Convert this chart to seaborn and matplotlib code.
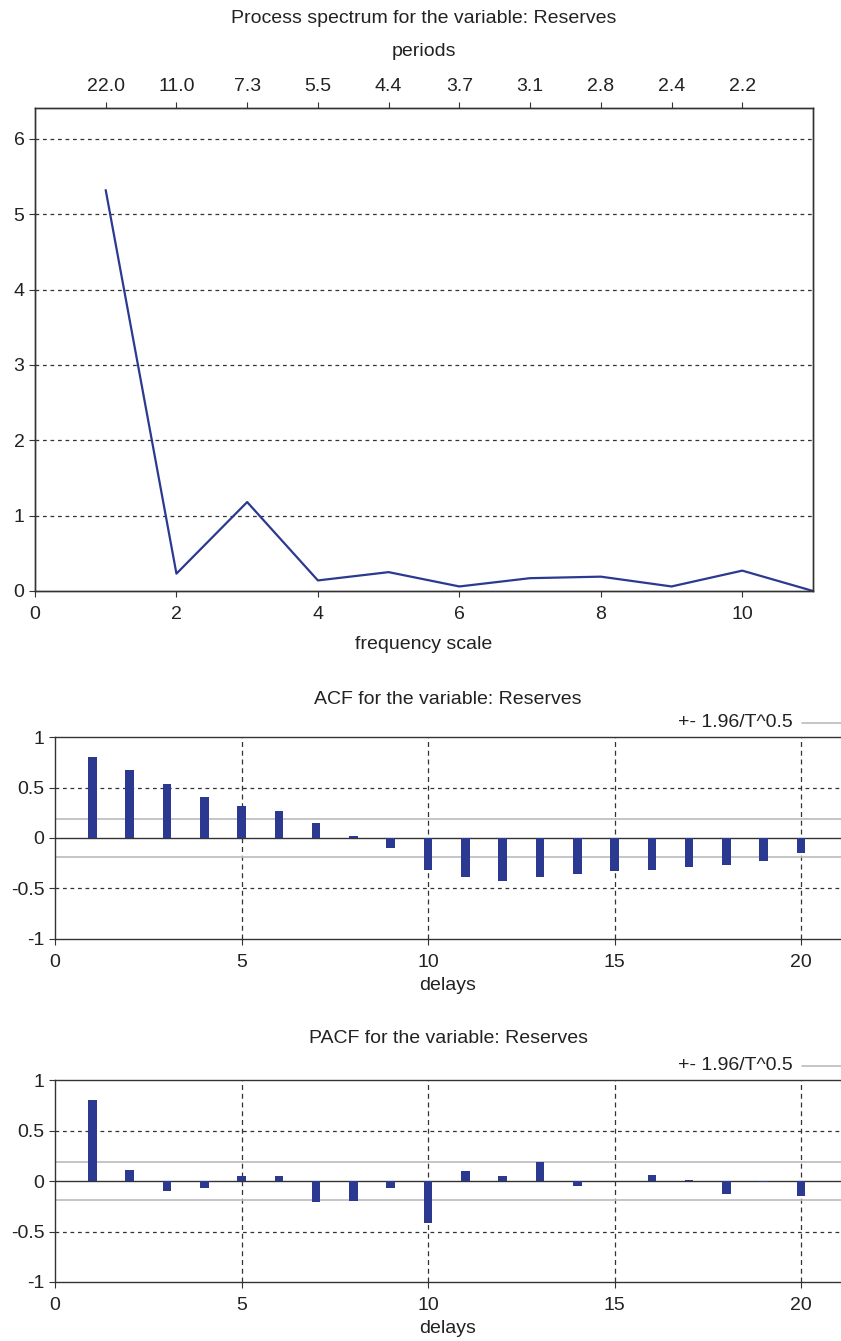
import numpy as np
import pandas as pd
import matplotlib
matplotlib.use("Agg")
import matplotlib.pyplot as plt
import seaborn as sns

# ---- data ----
freq = [1, 2, 3, 4, 5, 6, 7, 8, 9, 10, 11]
spectrum = [5.32, 0.23, 1.18, 0.14, 0.25, 0.06, 0.17, 0.19, 0.06, 0.27, 0.0]
period_ticks = [1, 2, 3, 4, 5, 6, 7, 8, 9, 10]
period_labels = ["22.0", "11.0", "7.3", "5.5", "4.4", "3.7", "3.1", "2.8", "2.4", "2.2"]

lags = list(range(1, 21))
acf = [0.80, 0.677, 0.533, 0.403, 0.317, 0.267, 0.147, 0.017, -0.097, -0.32,
       -0.383, -0.427, -0.383, -0.36, -0.323, -0.317, -0.287, -0.27, -0.227, -0.153]
pacf = [0.80, 0.113, -0.10, -0.067, 0.053, 0.053, -0.203, -0.193, -0.073, -0.417,
        0.10, 0.053, 0.187, -0.047, 0.003, 0.057, 0.013, -0.13, -0.01, -0.147]
conf = 0.19

sns.set_theme(style="white")
plt.rcParams['font.family'] = ['Liberation Sans', 'DejaVu Sans']
FS = 14
BLUE = "#2b3990"
GRID = "#333333"
TXT = "#222222"

fig = plt.figure(figsize=(8.41, 13.41), dpi=100)

# ---- spectrum ----
ax1 = fig.add_axes([0.0416, 0.5593, 0.9251, 0.3602])
df_s = pd.DataFrame({"freq": freq, "spec": spectrum})
sns.lineplot(data=df_s, x="freq", y="spec", ax=ax1, color=BLUE, linewidth=1.6)
ax1.set_xlim(0, 11)
ax1.set_ylim(0, 6.41)
ax1.set_xticks([0, 2, 4, 6, 8, 10])
ax1.set_yticks([0, 1, 2, 3, 4, 5, 6])
for v in [1, 2, 3, 4, 5, 6]:
    ax1.axhline(v, color=GRID, lw=0.9, ls=(0, (3, 3)), zorder=0)
ax1.set_xlabel("frequency scale", fontsize=FS, labelpad=9.5, color=TXT)
ax1.set_ylabel("")
ax1.tick_params(axis="x", pad=7)
ax1.tick_params(axis="both", labelsize=FS, direction="out", length=4, width=0.8,
                color="#333333", labelcolor=TXT, bottom=True, left=True)
for s in ax1.spines.values():
    s.set_color("#333333")
    s.set_linewidth(1.0)
ax1t = ax1.twiny()
ax1t.set_xlim(0, 11)
ax1t.set_xticks(period_ticks)
ax1t.set_xticklabels(period_labels)
ax1t.tick_params(axis="x", labelsize=FS, direction="out", length=4, width=0.8,
                 color="#333333", labelcolor=TXT, top=True, pad=5.5)
ax1t.set_xlabel("periods", fontsize=FS, labelpad=16, color=TXT)
ax1t.set_title("Process spectrum for the variable: Reserves", fontsize=FS, pad=14,
               color=TXT)
for s in ax1t.spines.values():
    s.set_color("#333333")
    s.set_linewidth(1.0)


def corr_panel(rect, values, title, tpad):
    ax = fig.add_axes(rect)
    df = pd.DataFrame({"lag": lags, "val": values})
    sns.barplot(data=df, x="lag", y="val", ax=ax, native_scale=True, width=0.23,
                color=BLUE, saturation=1, edgecolor="none", zorder=3)
    ax.set_xlim(0, 21.07)
    ax.set_ylim(-1, 1)
    ax.set_xticks([0, 5, 10, 15, 20])
    ax.set_yticks([-1, -0.5, 0, 0.5, 1])
    ax.set_yticklabels(["-1", "-0.5", "0", "0.5", "1"])
    for v in [0.5, -0.5]:
        ax.axhline(v, color=GRID, lw=0.9, ls=(0, (3, 3)), zorder=1)
    for v in [5, 10, 15, 20]:
        ax.axvline(v, color=GRID, lw=0.9, ls=(0, (4, 3)), zorder=1)
    ax.axhline(0, color="#333333", lw=1.0, zorder=2)
    ax.axhline(conf, color="#bbbbbb", lw=1.2, zorder=2)
    ax.axhline(-conf, color="#bbbbbb", lw=1.2, zorder=2)
    ax.set_xlabel("delays", fontsize=FS, labelpad=4, color=TXT)
    ax.set_ylabel("")
    ax.tick_params(axis="x", pad=7)
    ax.tick_params(axis="both", labelsize=FS, direction="out", length=4, width=0.8,
                   color="#333333", labelcolor=TXT, bottom=True, left=True)
    ax.spines["right"].set_visible(False)
    for s in ["left", "top", "bottom"]:
        ax.spines[s].set_color("#333333")
        ax.spines[s].set_linewidth(1.0)
    ax.set_title(title, fontsize=FS, pad=tpad, color=TXT)
    # legend for the confidence bands
    ax.plot([0.951, 1.0], [1.07, 1.07], transform=ax.transAxes, color="#bbbbbb",
            lw=1.2, clip_on=False)
    ax.text(0.939, 1.07, "+- 1.96/T^0.5", transform=ax.transAxes, ha="right",
            va="center", fontsize=FS, color=TXT)
    return ax


corr_panel([0.0654, 0.2998, 0.9346, 0.1506], acf, "ACF for the variable: Reserves", 24)
corr_panel([0.0654, 0.0440, 0.9346, 0.1506], pacf, "PACF for the variable: Reserves", 27)

fig.savefig("out.png", dpi=100)
